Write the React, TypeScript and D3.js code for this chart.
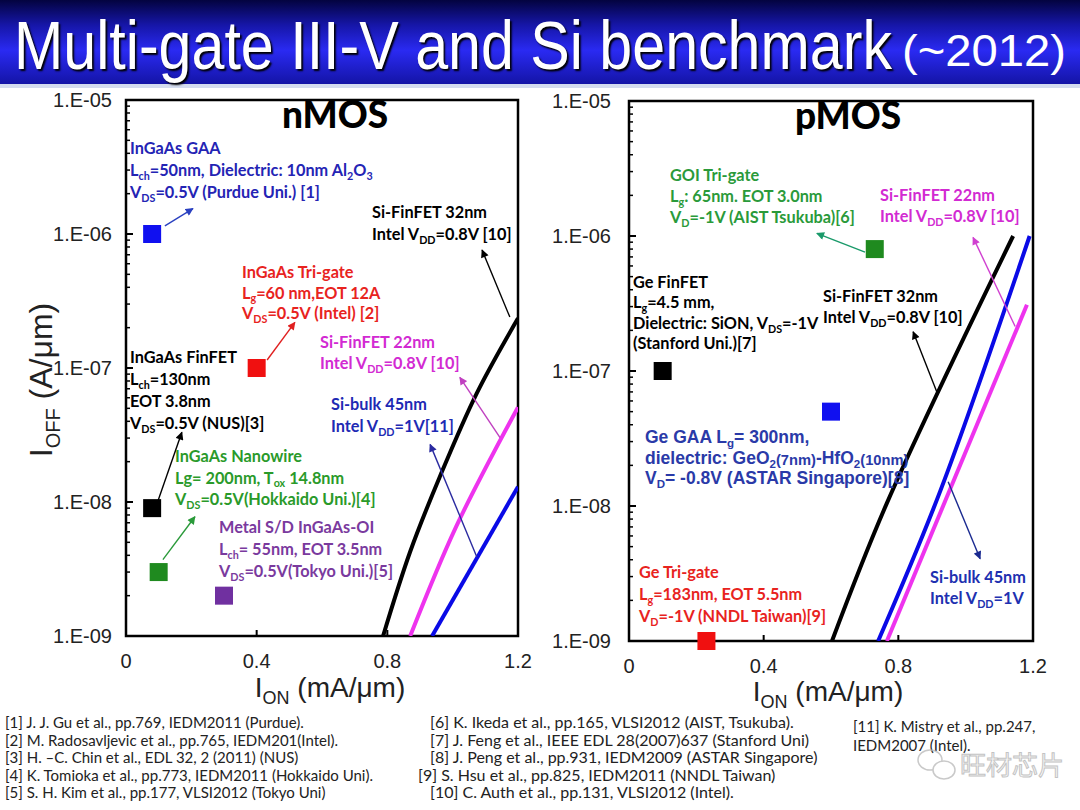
import React, { useEffect } from 'react'
import * as d3 from 'd3'

// axis values
const xTicks = [0, 0.4, 0.8, 1.2]
const yMajor = [1e-9, 1e-8, 1e-7, 1e-6, 1e-5]
const yTickLabels = ['1.E-09', '1.E-08', '1.E-07', '1.E-06', '1.E-05']

// nMOS single devices [I_on mA/um, I_off A/um]
const nmosNames = ['InGaAs GAA', 'InGaAs Tri-gate', 'InGaAs FinFET', 'InGaAs Nanowire', 'Metal S/D InGaAs-OI']
const nmosIon = [0.08, 0.4, 0.08, 0.1, 0.3]
const nmosIoff = [1e-6, 1e-7, 9e-9, 3e-9, 2e-9]
const nmosColors = ['#1010f0', '#f01010', '#000000', '#1f8a1f', '#7030a0']

// nMOS Si benchmark curves
const nFin32: [number, number][] = [[0.787, 1e-9], [0.869, 4.2e-9], [0.961, 1.55e-8], [1.074, 6.5e-8], [1.2, 2.35e-7]]
const nFin22: [number, number][] = [[0.87, 1e-9], [1.01, 6.5e-9], [1.2, 5.1e-8]]
const nBulk45: [number, number][] = [[0.937, 1e-9], [1.2, 1.3e-8]]

// pMOS single devices
const pmosNames = ['GOI Tri-gate', 'Ge FinFET', 'Ge GAA', 'Ge Tri-gate']
const pmosIon = [0.73, 0.1, 0.6, 0.23]
const pmosIoff = [8e-7, 1e-7, 5e-8, 1e-9]
const pmosColors = ['#1f8a1f', '#000000', '#1010f0', '#f01010']

// pMOS Si benchmark curves
const pFin32: [number, number][] = [[0.603, 1e-9], [0.766, 1.05e-8], [1.141, 1e-6]]
const pBulk45: [number, number][] = [[0.74, 1e-9], [0.925, 1.3e-8], [1.19, 1e-6]]
const pFin22: [number, number][] = [[0.766, 1e-9], [1.182, 3.1e-7]]

// annotation arrows in data space: [ion0, log10 ioff0, ion1, log10 ioff1]
const nmosArrows: [number, number, number, number, string][] = [
  [0.119, -5.94, 0.205, -5.81, '#2a40c0'],
  [1.175, -6.62, 1.09, -6.12, '#000000'],
  [0.432, -6.94, 0.517, -6.66, '#e02020'],
  [1.145, -7.52, 1.022, -7.07, '#c040c0'],
  [1.074, -8.41, 0.931, -7.57, '#2a2aa0'],
  [0.098, -7.99, 0.171, -7.48, '#000000'],
  [0.113, -8.43, 0.211, -8.11, '#2a9a3a'],
]
const pmosArrows: [number, number, number, number, string][] = [
  [0.701, -6.12, 0.558, -5.98, '#1a9a6a'],
  [1.147, -6.67, 1.022, -6.01, '#d040d0'],
  [0.915, -7.16, 0.844, -6.71, '#000000'],
  [0.948, -7.82, 1.043, -8.39, '#1a2a90'],
]

interface Label { x: number; y: number; lh: number; color: string; lines: string[]; arial?: boolean }

const nmosLabels: Label[] = [
  { x: 130, y: 154, lh: 22, color: '#2424b4', lines: ['InGaAs GAA', 'L_{ch}=50nm, Dielectric: 10nm Al_{2}O_{3}', 'V_{DS}=0.5V (Purdue Uni.) [1]'] },
  { x: 372, y: 218, lh: 22, color: '#000', lines: ['Si-FinFET 32nm', 'Intel V_{DD}=0.8V [10]'] },
  { x: 242, y: 278, lh: 20.5, color: '#e8231e', lines: ['InGaAs Tri-gate', 'L_{g}=60 nm,EOT 12A', 'V_{DS}=0.5V (Intel) [2]'] },
  { x: 320, y: 348, lh: 21, color: '#d22ad2', lines: ['Si-FinFET 22nm', 'Intel V_{DD}=0.8V [10]'] },
  { x: 130, y: 363, lh: 22, color: '#000', lines: ['InGaAs FinFET', 'L_{ch}=130nm', 'EOT 3.8nm', 'V_{DS}=0.5V (NUS)[3]'] },
  { x: 331, y: 410, lh: 22, color: '#1e2ab4', lines: ['Si-bulk 45nm', 'Intel V_{DD}=1V[11]'] },
  { x: 175, y: 462, lh: 21.5, color: '#2a9a2a', lines: ['InGaAs Nanowire', 'Lg= 200nm, T_{ox} 14.8nm', 'V_{DS}=0.5V(Hokkaido Uni.)[4]'] },
  { x: 219, y: 533, lh: 22, color: '#7a3a9e', lines: ['Metal S/D InGaAs-OI', 'L_{ch}= 55nm, EOT 3.5nm', 'V_{DS}=0.5V(Tokyo Uni.)[5]'] },
]
const pmosLabels: Label[] = [
  { x: 670, y: 181, lh: 21, color: '#2a9a3a', lines: ['GOI Tri-gate', 'L_{g}: 65nm. EOT 3.0nm', 'V_{D}=-1V (AIST Tsukuba)[6]'] },
  { x: 880, y: 201, lh: 21, color: '#d22ad2', lines: ['Si-FinFET 22nm', 'Intel V_{DD}=0.8V [10]'] },
  { x: 633, y: 288, lh: 20.3, color: '#000', lines: ['Ge FinFET', 'L_{g}=4.5 mm,', 'Dielectric: SiON, V_{DS}=-1V', '(Stanford Uni.)[7]'] },
  { x: 823, y: 302, lh: 21, color: '#000', lines: ['Si-FinFET 32nm', 'Intel V_{DD}=0.8V [10]'] },
  { x: 645, y: 443, lh: 20.5, color: '#2a3aa8', arial: true, lines: ['Ge GAA L_{g}= 300nm,', 'dielectric: GeO_{2}~{(7nm)}-HfO_{2}~{(10nm)}', 'V_{D}= -0.8V (ASTAR Singapore)[8]'] },
  { x: 930, y: 583, lh: 21, color: '#2030b0', lines: ['Si-bulk 45nm', 'Intel V_{DD}=1V'] },
  { x: 639, y: 578, lh: 22, color: '#e8231e', lines: ['Ge Tri-gate', 'L_{g}=183nm, EOT 5.5nm', 'V_{D}=-1V (NNDL Taiwan)[9]'] },
]

const refsLeft = [
  '[1] J. J. Gu et al., pp.769, IEDM2011 (Purdue).',
  '[2] M. Radosavljevic et al., pp.765, IEDM201(Intel).',
  '[3] H. \u2013C. Chin et al., EDL 32, 2 (2011) (NUS)',
  '[4] K. Tomioka et al., pp.773, IEDM2011 (Hokkaido Uni).',
  '[5] S. H. Kim et al., pp.177, VLSI2012 (Tokyo Uni)',
]
const refsMid = [
  '[6] K. Ikeda et al., pp.165, VLSI2012 (AIST, Tsukuba).',
  '[7] J. Feng et al., IEEE EDL 28(2007)637 (Stanford Uni)',
  '[8] J. Peng et al., pp.931, IEDM2009 (ASTAR Singapore)',
  '[9] S. Hsu et al., pp.825, IEDM2011 (NNDL Taiwan)',
  '[10] C. Auth et al., pp.131, VLSI2012 (Intel).',
]
const refsRight = ['[11] K. Mistry et al., pp.247,', 'IEDM2007 (Intel).']

const CAL = "Lato, 'Open Sans', sans-serif"
const ARIAL = "'Liberation Sans', Arial, sans-serif"

function Rich({ x, y, text, size, fill, weight, family }: { x: number; y: number; text: string; size: number; fill: string; weight?: string | number; family: string }) {
  const parts: { t: string; k: string }[] = []
  const re = /([_~])\{([^}]*)\}/g
  let last = 0
  let m: RegExpExecArray | null
  while ((m = re.exec(text))) {
    if (m.index > last) parts.push({ t: text.slice(last, m.index), k: 'n' })
    parts.push({ t: m[2], k: m[1] === '_' ? 's' : 'm' })
    last = re.lastIndex
  }
  if (last < text.length) parts.push({ t: text.slice(last), k: 'n' })
  let cur = 0
  return (
    <text x={x} y={y} fontSize={size} fill={fill} fontWeight={weight} fontFamily={family} style={{ whiteSpace: 'pre' }}>
      {parts.map((p, i) => {
        const target = p.k === 's' ? size * 0.24 : p.k === 'm' ? size * 0.06 : 0
        const dy = target - cur
        cur = target
        const fs = p.k === 'n' ? undefined : size * (p.k === 's' ? 0.66 : 0.84)
        return <tspan key={i} dy={dy || undefined} fontSize={fs}>{p.t}</tspan>
      })}
    </text>
  )
}

interface PanelProps {
  id: string
  x0: number; x1: number; y0: number; y1: number
  title: string
  titleX: number
  xTitleX: number
  xTitleY: number
  names: string[]; ion: number[]; ioff: number[]; colors: string[]
  curves: { pts: [number, number][]; color: string }[]
  arrows: [number, number, number, number, string][]
  labels: Label[]
  labelRight: number
  showYTitle: boolean
}

function Panel(p: PanelProps) {
  const x = d3.scaleLinear().domain([0, 1.2]).range([p.x0, p.x1])
  const y = d3.scaleLog().domain([1e-9, 1e-5]).range([p.y1, p.y0])
  const line = d3.line<[number, number]>().x(d => x(d[0])).y(d => y(d[1])).curve(d3.curveCatmullRom.alpha(0.5))
  const minor: number[] = []
  for (let e = -9; e < -5; e++) for (let k = 2; k <= 9; k++) minor.push(k * Math.pow(10, e))
  const sq = 18
  return (
    <g>
      <defs>
        <clipPath id={`clip-${p.id}`}>
          <rect x={p.x0} y={p.y0} width={p.x1 - p.x0} height={p.y1 - p.y0} />
        </clipPath>
        {p.arrows.map((a, i) => (
          <marker key={i} id={`ah-${p.id}-${i}`} viewBox="0 0 10 10" refX={9} refY={5} markerWidth={9} markerHeight={8} markerUnits="userSpaceOnUse" orient="auto">
            <path d="M0,0 L10,5 L0,10 z" fill={a[4]} />
          </marker>
        ))}
      </defs>
      <rect x={p.x0} y={p.y0} width={p.x1 - p.x0} height={p.y1 - p.y0} fill="#fff" stroke="#000" strokeWidth={2.5} />
      {yMajor.map(v => <line key={v} x1={p.x0} x2={p.x0 + 7} y1={y(v)} y2={y(v)} stroke="#000" strokeWidth={2} />)}
      {minor.map(v => <line key={v} x1={p.x0} x2={p.x0 + 4} y1={y(v)} y2={y(v)} stroke="#000" strokeWidth={1.5} />)}
      {xTicks.slice(1, -1).map(v => <line key={v} x1={x(v)} x2={x(v)} y1={p.y1} y2={p.y1 - 6} stroke="#000" strokeWidth={2} />)}
      {yMajor.map((v, i) => (
        <text key={v} x={p.labelRight} y={y(v) + 7} textAnchor="end" fontFamily={ARIAL} fontSize={20} fill="#222">{yTickLabels[i]}</text>
      ))}
      {xTicks.map(v => (
        <text key={v} x={x(v)} y={p.y1 + 32} textAnchor="middle" fontFamily={ARIAL} fontSize={20} fill="#222">{v === 0 ? '0' : d3.format('.1f')(v)}</text>
      ))}
      <text x={p.xTitleX} y={p.xTitleY} textAnchor="middle" fontFamily={ARIAL} fontSize={28} fill="#222">
        I<tspan dy={7} fontSize={18}>ON</tspan><tspan dy={-7}> (mA/</tspan><tspan>{'\u03bc'}</tspan><tspan>m)</tspan>
      </text>
      {p.showYTitle && (
        <text transform={`translate(52,${(p.y0 + p.y1) / 2 + 12}) rotate(-90)`} textAnchor="middle" fontFamily={ARIAL} fontSize={32} fill="#222">
          I<tspan dy={8} fontSize={20}>OFF</tspan><tspan dy={-8}> (A/</tspan><tspan>{'\u03bc'}</tspan><tspan>m)</tspan>
        </text>
      )}
      <text x={p.titleX} y={p.y0 + 28} textAnchor="middle" fontFamily={CAL} fontWeight={900} fontSize={37} fill="#000">{p.title}</text>
      <g clipPath={`url(#clip-${p.id})`}>
        {p.curves.map((c, i) => (
          <path key={i} d={line(c.pts) || ''} fill="none" stroke={c.color} strokeWidth={4} />
        ))}
      </g>
      {p.names.map((n, i) => (
        <rect key={n} x={x(p.ion[i]) - sq / 2} y={y(p.ioff[i]) - sq / 2} width={sq} height={sq} fill={p.colors[i]} />
      ))}
      {p.arrows.map((a, i) => (
        <line key={i} x1={x(a[0])} y1={y(Math.pow(10, a[1]))} x2={x(a[2])} y2={y(Math.pow(10, a[3]))} stroke={a[4]} strokeWidth={1.4} markerEnd={`url(#ah-${p.id}-${i})`} />
      ))}
      {p.labels.map((l, i) => (
        <g key={i}>
          {l.lines.map((t, j) => (
            <Rich key={j} x={l.x} y={l.y + j * l.lh} text={t} size={l.arial ? 17.5 : 16.3} fill={l.color} weight={700} family={l.arial ? ARIAL : CAL} />
          ))}
        </g>
      ))}
    </g>
  )
}

export default function App() {
  useEffect(() => {
    document.body.style.margin = '0'
  }, [])
  return (
    <svg width={1080} height={810} style={{ display: 'block', position: 'absolute', left: 0, top: 0, background: '#fff' }}>
      <defs>
        <linearGradient id="band" x1="0" y1="0" x2="0" y2="1">
          <stop offset="0%" stopColor="#03033f" />
          <stop offset="30%" stopColor="#1616a8" />
          <stop offset="60%" stopColor="#2a2af2" />
          <stop offset="100%" stopColor="#1414a6" />
        </linearGradient>
      </defs>
      <rect x={0} y={0} width={1080} height={810} fill="#fff" />
      <rect x={0} y={0} width={1080} height={84} fill="url(#band)" />
      <rect x={0} y={84} width={1080} height={4} fill="#d4dcef" />
      <text x={14} y={69} fontFamily="'Liberation Sans Narrow', 'Liberation Sans', Arial, sans-serif" fontSize={68} fill="#fff" textLength={878} lengthAdjust="spacingAndGlyphs" style={{ textShadow: '2px 2px 2px #000' }}>
        Multi-gate III-V and Si benchmark
      </text>
      <text x={902} y={66} fontFamily="'Liberation Sans Narrow', 'Liberation Sans', Arial, sans-serif" fontSize={44} fill="#fff" textLength={164} lengthAdjust="spacingAndGlyphs">
        (~2012)
      </text>

      <Panel id="n" x0={126} x1={518} y0={100} y1={636} title="nMOS" titleX={335} xTitleX={330} xTitleY={697}
        names={nmosNames} ion={nmosIon} ioff={nmosIoff} colors={nmosColors}
        curves={[{ pts: nFin32, color: '#000' }, { pts: nFin22, color: '#ee33ee' }, { pts: nBulk45, color: '#0a0ae6' }]}
        arrows={nmosArrows} labels={nmosLabels} labelRight={112} showYTitle />
      <Panel id="p" x0={629} x1={1033} y0={101} y1={641} title="pMOS" titleX={848} xTitleX={828} xTitleY={701}
        names={pmosNames} ion={pmosIon} ioff={pmosIoff} colors={pmosColors}
        curves={[{ pts: pFin32, color: '#000' }, { pts: pBulk45, color: '#0a0ae6' }, { pts: pFin22, color: '#ee33ee' }]}
        arrows={pmosArrows} labels={pmosLabels} labelRight={611} showYTitle={false} />

      {refsLeft.map((t, i) => (
        <text key={t} x={5} y={728 + i * 17.5} fontFamily={CAL} fontSize={15} fill="#222">{t}</text>
      ))}
      {refsMid.map((t, i) => (
        <text key={t} x={i === 3 ? 418 : 430} y={728 + i * 17.5} fontFamily={CAL} fontSize={16} fill="#222">{t}</text>
      ))}
      {refsRight.map((t, i) => (
        <text key={t} x={853} y={732 + i * 19} fontFamily={CAL} fontSize={15} fill="#222">{t}</text>
      ))}
      <g opacity={0.75}>
        <ellipse cx={930} cy={760} rx={12} ry={10} fill="none" stroke="#b8b8b8" strokeWidth={1.5} />
        <ellipse cx={944} cy={770} rx={11} ry={9} fill="#fff" stroke="#b8b8b8" strokeWidth={1.5} />
        <text x={960} y={775} fontFamily="'Noto Sans CJK SC', sans-serif" fontSize={26} fill="#f4f4f4" stroke="#b0b0b0" strokeWidth={1}>旺材芯片</text>
      </g>
    </svg>
  )
}
